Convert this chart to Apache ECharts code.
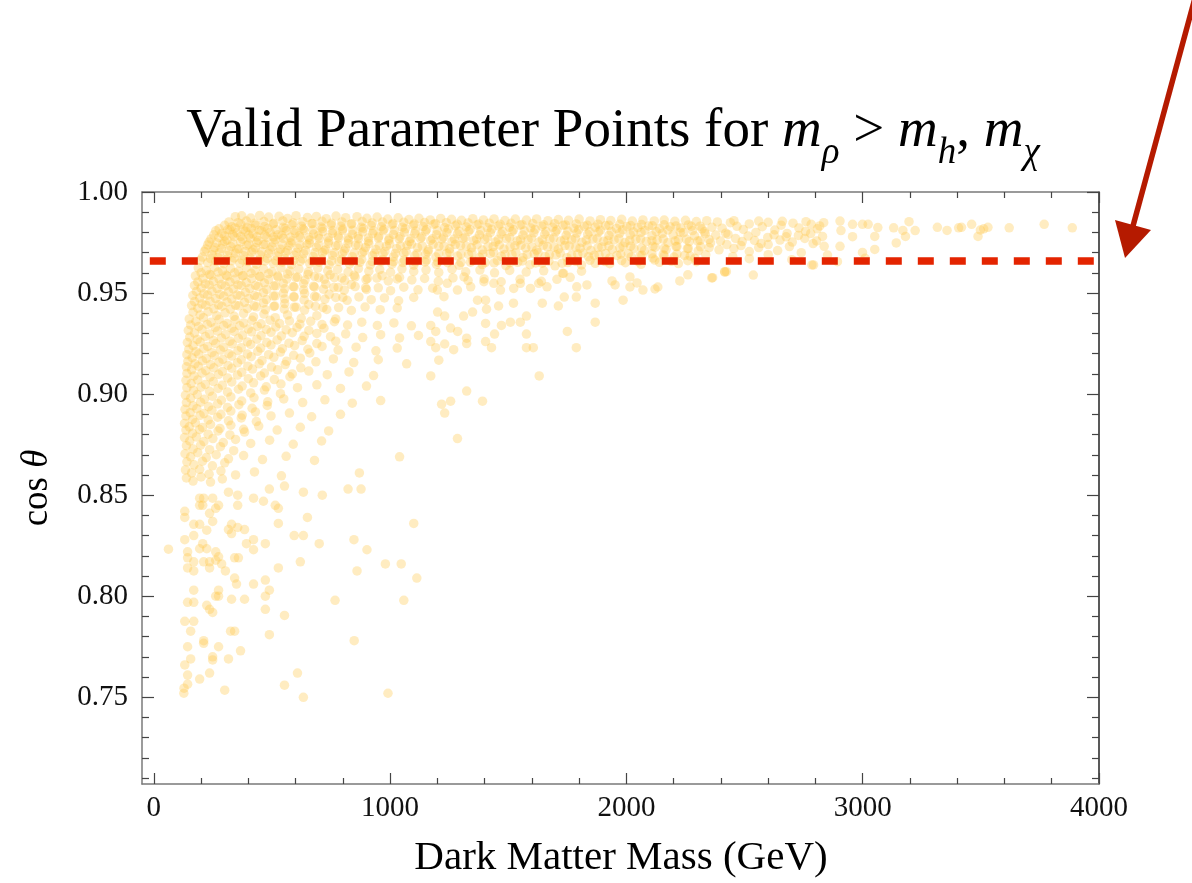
<!DOCTYPE html>
<html>
<head>
<meta charset="utf-8">
<script src="https://cdn.jsdelivr.net/npm/echarts@6/dist/echarts.min.js"></script>
<style>
  html, body { margin: 0; padding: 0; background: #fff; }
  #chart { width: 1192px; height: 883px; }
</style>
</head>
<body>
<div id="chart"></div>
<script>
// tick positions
const xMajor = [0, 1000, 2000, 3000, 4000];
const xMinor = [200, 400, 600, 800, 1200, 1400, 1600, 1800, 2200, 2400, 2600, 2800, 3200, 3400, 3600, 3800];
const yMajor = [0.75, 0.80, 0.85, 0.90, 0.95, 1.00];
const yMinor = [0.71, 0.72, 0.73, 0.74, 0.76, 0.77, 0.78, 0.79, 0.81, 0.82, 0.83, 0.84, 0.86, 0.87, 0.88, 0.89,
                0.91, 0.92, 0.93, 0.94, 0.96, 0.97, 0.98, 0.99];

// dashed cut line (cos theta = 0.9659)
const cutLine = [[-17, 0.9659], [3979, 0.9659]];

// dense upper band
const bandUpper = [
  [345,.9878],[372,.9882],[410,.9871],[448,.9884],[486,.9876],[530,.9880],[566,.9869],[602,.9883],[650,.9874],[688,.9879],[730,.9868],[771,.9881],[812,.9873],[860,.9878],[902,.9870],[945,.9876],[990,.9866],[1034,.9872],[1080,.9864],[1122,.9870],[1170,.9862],[1214,.9869],[1260,.9865],[1302,.9860],[1350,.9868],[1395,.9862],[1440,.9867],[1486,.9859],[1530,.9866],[1577,.9861],[1620,.9867],[1668,.9858],[1712,.9864],[1755,.9860],[1800,.9866],[1846,.9857],[1890,.9863],[1934,.9859],[1980,.9865],[2025,.9856],[2070,.9862],[2118,.9857],[2160,.9861],[2205,.9855],[2250,.9860],[2296,.9854],[2340,.9858],[2385,.9852],
  [318,.9852],[356,.9848],[392,.9856],[428,.9846],[466,.9854],[508,.9845],[546,.9857],[590,.9847],[630,.9853],[672,.9844],[712,.9855],[752,.9846],[796,.9852],[838,.9843],[882,.9854],[924,.9847],[968,.9851],[1012,.9844],[1058,.9850],[1102,.9842],[1146,.9849],[1192,.9843],[1238,.9848],[1284,.9841],[1330,.9847],[1376,.9842],[1420,.9846],[1466,.9840],[1512,.9845],[1558,.9839],[1604,.9844],[1650,.9838],[1696,.9843],[1742,.9837],[1788,.9842],[1834,.9836],[1880,.9841],[1926,.9835],[1972,.9840],[2018,.9834],[2064,.9839],[2110,.9833],[2160,.9838],[2210,.9832],[2262,.9837],[2312,.9831],
  [300,.9835],[330,.9828],[368,.9840],[395,.9825],[430,.9836],[468,.9829],[505,.9842],[548,.9826],[585,.9838],[625,.9831],[668,.9843],[708,.9827],[750,.9837],[792,.9830],[835,.9841],[878,.9825],[920,.9834],[963,.9828],[1008,.9838],[1052,.9826],[1098,.9835],[1140,.9829],[1185,.9840],[1230,.9824],[1276,.9833],[1322,.9827],[1368,.9837],[1412,.9823],[1458,.9832],[1505,.9826],[1550,.9836],[1595,.9822],[1642,.9831],[1688,.9826],[1732,.9835],[1778,.9821],[1822,.9830],[1868,.9825],[1912,.9834],[1958,.9820],[2002,.9829],[2048,.9824],[2094,.9832],[2140,.9819],[2185,.9828],[2230,.9822],[2275,.9830],[2320,.9818],[2362,.9826],[2405,.9821],
  [276,.9818],[312,.9812],[344,.9822],[378,.9814],[412,.9820],[446,.9811],[482,.9819],[518,.9813],[556,.9821],[594,.9810],[632,.9818],[674,.9812],[714,.9820],[758,.9809],[800,.9817],[842,.9811],[886,.9819],[930,.9808],[974,.9816],[1018,.9810],[1064,.9818],[1108,.9807],[1154,.9815],[1200,.9809],[1246,.9817],[1292,.9806],[1338,.9814],[1384,.9808],[1430,.9816],[1476,.9805],[1522,.9813],[1568,.9807],[1614,.9815],[1660,.9804],[1706,.9812],[1752,.9806],[1798,.9814],[1844,.9803],[1890,.9811],[1936,.9805],[1984,.9813],[2030,.9802],[2078,.9810],[2126,.9804],[2176,.9812],[2228,.9801],[2280,.9809],[2330,.9803],
  [262,.9808],[288,.9795],[322,.9812],[352,.9798],[388,.9806],[420,.9793],[455,.9810],[492,.9800],[526,.9789],[560,.9808],[598,.9797],[636,.9811],[676,.9792],[715,.9804],[756,.9796],[798,.9809],[840,.9791],[884,.9803],[926,.9795],[970,.9808],[1014,.9790],[1060,.9801],[1104,.9794],[1150,.9806],[1196,.9789],[1240,.9800],[1285,.9793],[1332,.9805],[1378,.9788],[1424,.9799],[1470,.9792],[1516,.9804],[1562,.9787],[1608,.9798],[1654,.9791],[1700,.9803],[1745,.9786],[1790,.9797],[1836,.9790],[1882,.9802],[1926,.9785],[1972,.9796],[2016,.9789],[2062,.9800],[2108,.9784],[2152,.9795],[2198,.9788],[2242,.9799],[2288,.9783],[2334,.9794],[2378,.9787],[2420,.9796]
];

const bandLower = [
  [254,.9788],[300,.9782],[334,.9790],[368,.9780],[402,.9787],[436,.9778],[470,.9786],[506,.9777],[542,.9785],[578,.9776],[616,.9784],[656,.9775],[696,.9783],[738,.9774],[780,.9782],[822,.9773],[864,.9781],[908,.9772],[952,.9780],[996,.9771],[1042,.9779],[1088,.9770],[1134,.9778],[1180,.9769],[1226,.9777],[1272,.9768],[1318,.9776],[1366,.9767],[1412,.9775],[1458,.9766],[1506,.9774],[1552,.9765],[1598,.9773],[1644,.9764],[1692,.9772],[1738,.9763],[1784,.9771],[1830,.9762],[1876,.9770],[1922,.9761],[1968,.9769],[2014,.9760],[2060,.9768],[2108,.9759],[2156,.9767],[2206,.9758],[2254,.9766],[2302,.9757],[2350,.9765],
  [242,.9768],[275,.9775],[310,.9762],[340,.9779],[376,.9766],[408,.9772],[442,.9760],[478,.9776],[514,.9764],[548,.9771],[584,.9758],[620,.9774],[660,.9763],[700,.9770],[740,.9757],[782,.9773],[824,.9762],[866,.9769],[908,.9756],[950,.9772],[994,.9761],[1038,.9768],[1082,.9755],[1128,.9771],[1172,.9760],[1218,.9767],[1262,.9754],[1308,.9770],[1354,.9759],[1400,.9766],[1446,.9753],[1492,.9769],[1538,.9758],[1584,.9765],[1630,.9752],[1676,.9768],[1722,.9757],[1768,.9764],[1812,.9751],[1858,.9767],[1904,.9756],[1948,.9763],[1994,.9750],[2040,.9766],[2084,.9755],[2130,.9762],[2176,.9749],[2220,.9764],[2266,.9754],[2312,.9760],[2356,.9748],[2398,.9758],
  [234,.9752],[266,.9748],[300,.9756],[334,.9745],[368,.9753],[402,.9742],[436,.9750],[472,.9741],[508,.9749],[544,.9740],[580,.9748],[618,.9739],[658,.9747],[698,.9738],[738,.9746],[780,.9737],[822,.9745],[866,.9736],[910,.9744],[954,.9735],[998,.9743],[1044,.9734],[1090,.9742],[1136,.9733],[1182,.9741],[1228,.9732],[1276,.9740],[1322,.9731],[1368,.9739],[1414,.9730],[1462,.9738],[1508,.9729],[1554,.9737],[1600,.9728],[1648,.9736],[1694,.9727],[1740,.9735],[1786,.9726],[1834,.9734],[1880,.9725],[1926,.9733],[1972,.9724],[2018,.9732],[2064,.9723],[2112,.9731],[2160,.9722],[2210,.9730],[2262,.9721],[2314,.9729],
  [228,.9738],[258,.9725],[292,.9742],[326,.9730],[360,.9719],[394,.9736],[430,.9724],[464,.9740],[500,.9728],[536,.9717],[572,.9734],[610,.9722],[648,.9739],[688,.9727],[728,.9716],[770,.9733],[812,.9721],[854,.9737],[896,.9726],[940,.9715],[984,.9732],[1028,.9720],[1072,.9736],[1116,.9725],[1162,.9714],[1206,.9731],[1252,.9719],[1298,.9735],[1344,.9724],[1390,.9713],[1436,.9730],[1482,.9718],[1528,.9734],[1574,.9723],[1620,.9712],[1666,.9729],[1712,.9717],[1758,.9733],[1804,.9722],[1850,.9711],[1896,.9728],[1940,.9716],[1986,.9732],[2032,.9721],[2076,.9710],[2122,.9727],[2168,.9715],[2214,.9730],[2258,.9720],[2304,.9709],[2350,.9725],[2392,.9714],
  [220,.9718],[252,.9712],[286,.9720],[318,.9709],[352,.9717],[386,.9706],[420,.9714],[456,.9704],[492,.9713],[528,.9702],[566,.9711],[604,.9701],[642,.9710],[682,.9700],[722,.9709],[764,.9699],[806,.9708],[848,.9698],[890,.9707],[934,.9697],[978,.9706],[1022,.9696],[1068,.9705],[1114,.9695],[1160,.9704],[1206,.9694],[1252,.9703],[1300,.9693],[1346,.9702],[1392,.9692],[1438,.9701],[1486,.9691],[1532,.9700],[1580,.9690],[1626,.9699],[1674,.9689],[1720,.9698],[1768,.9688],[1816,.9697],[1864,.9687],[1912,.9696],[1960,.9686],[2008,.9695],[2058,.9685],[2108,.9694],[2160,.9684],[2214,.9693],[2270,.9683],
  [214,.9705],[246,.9690],[278,.9700],[312,.9686],[346,.9698],[380,.9684],[414,.9702],[450,.9688],[486,.9697],[522,.9683],[558,.9700],[596,.9687],[634,.9695],[674,.9681],[714,.9699],[756,.9686],[798,.9694],[840,.9680],[882,.9698],[926,.9685],[970,.9693],[1014,.9679],[1058,.9697],[1104,.9684],[1150,.9692],[1194,.9678],[1240,.9696],[1286,.9683],[1332,.9691],[1378,.9677],[1424,.9695],[1470,.9682],[1516,.9690],[1562,.9676],[1610,.9694],[1656,.9681],[1702,.9689],[1748,.9675],[1794,.9693],[1840,.9680],[1884,.9688],[1930,.9674],[1976,.9692],[2020,.9679],[2066,.9687],[2112,.9673],[2156,.9690],[2202,.9678],[2246,.9686],[2290,.9672],[2336,.9689],
  [206,.9678],[240,.9670],[272,.9676],[306,.9666],[340,.9674],[374,.9664],[408,.9672],[444,.9662],[480,.9671],[516,.9661],[554,.9670],[592,.9660],[630,.9669],[670,.9659],[710,.9668],[752,.9658],[794,.9667],[836,.9657],[880,.9666],[924,.9656],[968,.9665],[1014,.9655],[1060,.9664],[1106,.9654],[1154,.9663],[1202,.9653],[1250,.9662],[1300,.9652],[1350,.9661],[1402,.9651],[1454,.9660],[1508,.9650],[1560,.9659],[1616,.9649],[1672,.9658],[1728,.9648],[1786,.9657],[1846,.9662],[1910,.9656],[1980,.9661],[2050,.9655],[2120,.9663],[2190,.9657],[2260,.9660],
  [196,.9662],[228,.9650],[262,.9658],[296,.9645],[330,.9660],[364,.9648],[398,.9656],[434,.9643],[470,.9659],[506,.9647],[544,.9654],[582,.9641],[620,.9657],[660,.9646],[700,.9653],[742,.9640],[784,.9656],[828,.9644],[872,.9652],[916,.9639],[962,.9655],[1008,.9643],[1054,.9651],[1100,.9638],[1148,.9654],[1196,.9642],[1244,.9650],[1292,.9637],[1340,.9653],[1390,.9641],[1440,.9649],[1490,.9636],[1540,.9652],[1592,.9640],[1644,.9648],[1698,.9635],[1752,.9651],[1810,.9639],[1868,.9647],[1930,.9645],[1996,.9650],[2062,.9642],[2140,.9652],[2220,.9646],[2296,.9655]
];

// band end 2400 - 2850
const bandEnd = [
  [2440,.9848],[2468,.9830],[2495,.9815],[2520,.9842],[2548,.9800],[2575,.9828],[2600,.9850],[2628,.9812],[2655,.9836],[2680,.9795],[2705,.9846],[2730,.9822],[2758,.9805],[2782,.9840],[2808,.9818],[2835,.9848],
  [2430,.9790],[2462,.9770],[2490,.9755],[2515,.9782],[2542,.9760],[2570,.9745],[2598,.9775],[2625,.9788],[2650,.9762],[2676,.9778],[2702,.9752],[2728,.9785],[2755,.9770],[2780,.9795],[2805,.9758],[2830,.9780],
  [2425,.9740],[2455,.9720],[2485,.9735],[2520,.9705],[2560,.9725],[2600,.9740],[2640,.9710],[2690,.9730],[2740,.9700],[2790,.9745],
  [2450,.9680],[2520,.9670],[2600,.9690],[2700,.9665],[2455,.9858],[2560,.9856],[2660,.9855],[2760,.9853],[2818,.9832],
  [2365,.9576],[2416,.9606],[2423,.9606],[2537,.9589],[2792,.9639]
];

// sparse points beyond 2850
const farRight = [
  [2851,.9688],[2837,.9731],[2785,.9639],[2893,.9655],[2904,.9856],[2908,.9809],[2904,.9731],[2957,.9840],[2957,.9779],
  [2999,.9840],[2999,.9701],[3010,.9672],[3023,.9840],[3051,.9780],[3051,.9716],[3064,.9824],[3131,.9823],[3142,.9748],
  [3170,.9810],[3181,.9780],[3196,.9853],[3222,.9809],[3316,.9825],[3357,.9810],[3406,.9823],[3418,.9825],[3461,.9840],
  [3488,.9780],[3498,.9812],[3512,.9818],[3530,.9825],[3620,.9823],[3768,.9840],[3887,.9823]
];

// just below the cut line
const shoulder = [
  [188,.9625],[222,.9612],[256,.9628],[290,.9610],[324,.9622],[358,.9608],[392,.9626],[428,.9611],[464,.9620],[500,.9606],[538,.9624],[576,.9609],[614,.9619],[654,.9605],[694,.9623],[736,.9610],[778,.9617],[822,.9604],[866,.9621],[910,.9608],[956,.9616],[1002,.9603],[1050,.9620],[1100,.9607],[1152,.9615],[1206,.9602],[1262,.9618],[1320,.9605],[1380,.9614],[1442,.9600],[1506,.9612],[1576,.9604],[1650,.9610],[1730,.9598],[1810,.9608],
  [200,.9600],[236,.9592],[272,.9604],[306,.9588],[342,.9600],[376,.9585],[412,.9598],[448,.9583],[486,.9596],[526,.9580],[566,.9594],[608,.9578],[652,.9592],[698,.9576],[746,.9590],[796,.9574],[848,.9588],[904,.9572],[966,.9586],[1030,.9570],
  [176,.9585],[208,.9572],[242,.9588],[276,.9570],[310,.9583],[344,.9568],[378,.9586],[414,.9571],[450,.9580],[486,.9566],[524,.9584],[562,.9569],[600,.9578],[640,.9564],[680,.9582],[722,.9568],[764,.9576],[808,.9562],[852,.9580],[898,.9567],[944,.9574],[992,.9560],[1040,.9578],[1092,.9565],[1146,.9572],[1204,.9558],[1266,.9575],[1330,.9562],[1398,.9570],[1470,.9556],[1550,.9568],[1640,.9558],
  [186,.9555],[218,.9545],[252,.9558],[286,.9542],[322,.9555],[356,.9540],[392,.9552],[430,.9538],[468,.9550],[508,.9535],[548,.9548],[590,.9532],[634,.9546],[680,.9530],[728,.9544],[780,.9528],[836,.9542],[896,.9526],
  [172,.9538],[200,.9525],[234,.9540],[268,.9522],[302,.9535],[336,.9520],[370,.9538],[406,.9523],[442,.9532],[478,.9518],[516,.9536],[554,.9521],[594,.9530],[634,.9516],[676,.9534],[718,.9519],[762,.9528],[806,.9514],[852,.9532],[900,.9518],[950,.9526],[1002,.9512],[1058,.9529],[1118,.9516],[1180,.9524],
  [180,.9508],[212,.9496],[246,.9510],[280,.9493],[316,.9506],[352,.9490],[388,.9504],[426,.9488],[464,.9502],[506,.9485],[548,.9500],[592,.9482],[638,.9498],[688,.9480],[742,.9494],[800,.9478],
  [165,.9488],[194,.9475],[228,.9490],[262,.9472],[296,.9485],[330,.9470],[366,.9487],[402,.9473],[438,.9482],[476,.9468],[514,.9486],[554,.9471],[594,.9480],[636,.9466],[680,.9484],[724,.9469],[770,.9478],[818,.9464],[868,.9481],[920,.9467],[976,.9476],[1036,.9462],[1100,.9478],
  [172,.9458],[204,.9446],[238,.9460],[274,.9442],[310,.9456],[346,.9440],[384,.9454],[424,.9437],[464,.9451],[508,.9434],[554,.9448],[602,.9430],[656,.9444],[716,.9428],
  [160,.9438],[186,.9425],[220,.9440],[254,.9422],[288,.9435],[324,.9420],[360,.9437],[396,.9423],[434,.9432],[472,.9418],[512,.9436],[552,.9421],[594,.9430],[638,.9416],[684,.9434],[732,.9419],[782,.9428],[836,.9414],[894,.9431],[958,.9418],[1030,.9426],
  [166,.9405],[196,.9392],[230,.9408],[266,.9388],[302,.9402],[340,.9385],[380,.9399],[422,.9382],[466,.9396],[514,.9378],[566,.9392],[624,.9375],[690,.9388],[770,.9372]
];

// scattered points 1150 - 2450 below the band
const midScatter = [
  [1172,.9340],[1172,.9260],[1193,.9310],[1201,.9406],[1231,.9386],[1256,.9327],[1286,.9310],[1311,.9386],[1349,.9406],[1370,.9465],
  [1404,.9465],[1408,.9420],[1459,.9436],[1404,.9350],[1442,.9297],[1471,.9340],[1509,.9356],[1551,.9356],[1577,.9386],[1577,.9297],
  [1522,.9450],[1644,.9450],[1712,.9436],[1737,.9480],[1788,.9480],[1750,.9310],[1868,.9356],[1868,.9450],[1986,.9465],[2015,.9530],
  [2045,.9550],[2070,.9515],[2121,.9520],[2133,.9530],[2226,.9560],[2260,.9590],[2361,.9575],[2416,.9604],[1939,.9560],[1952,.9540],
  [2015,.9580],[1790,.9531],[1833,.9540],[1762,.9578],[1734,.9597],[1706,.9568],[1664,.9531],[1629,.9548],[1594,.9523],[1551,.9548],
  [1523,.9523],[1467,.9515],[1439,.9548],[1397,.9556],[1341,.9531],[1313,.9580],[1285,.9515],[1242,.9548],[1228,.9482],[1200,.9515],
  [1269,.9220],[1193,.9230],[1231,.9248],[1324,.9250],[1324,.9277],[1404,.9260],[1429,.9230],[1577,.9230],[1606,.9230],[1788,.9230],
  [1206,.9168],[1172,.9090],[1218,.8950],[1256,.8965],[1231,.8906],[1324,.9015],[1391,.8965],[1631,.9090],[1285,.8780]
];

// main cloud 0.90 - 0.94
const cloud = [
  [150,.9372],[178,.9360],[210,.9378],[242,.9355],[276,.9370],[310,.9350],[344,.9368],[380,.9352],[416,.9365],[454,.9348],[492,.9366],[532,.9350],[574,.9362],[618,.9346],[664,.9360],[712,.9344],[764,.9358],[820,.9342],[880,.9356],[946,.9340],[1016,.9352],[1090,.9338],
  [156,.9342],[190,.9335],[226,.9345],[260,.9330],[296,.9340],[330,.9326],[364,.9338],[400,.9322],[438,.9335],[476,.9320],[516,.9332],[560,.9318],[606,.9330],[656,.9315],[720,.9326],
  [146,.9315],[172,.9302],[204,.9320],[236,.9298],[270,.9312],[304,.9295],[340,.9310],[376,.9292],[414,.9308],[454,.9290],[496,.9306],[540,.9288],[586,.9304],[636,.9286],[690,.9300],[748,.9284],[812,.9298],[884,.9280],[960,.9294],[1040,.9278],[1120,.9290],
  [152,.9282],[184,.9270],[218,.9285],[252,.9265],[286,.9278],[322,.9262],[358,.9276],[396,.9258],[436,.9272],[478,.9255],[522,.9268],[572,.9252],[628,.9265],[690,.9250],[770,.9262],
  [142,.9255],[166,.9240],[196,.9258],[228,.9236],[262,.9250],[296,.9232],[332,.9248],[370,.9230],[410,.9246],[452,.9228],[496,.9243],[544,.9225],[596,.9240],[652,.9222],[712,.9236],[780,.9218],[856,.9232],[940,.9214],[1030,.9228],
  [148,.9222],[178,.9210],[212,.9225],[246,.9205],[282,.9218],[318,.9200],[356,.9215],[396,.9198],[440,.9212],[486,.9195],[536,.9208],[592,.9192],[660,.9204],
  [140,.9195],[162,.9180],[190,.9198],[222,.9176],[256,.9190],[292,.9172],[330,.9188],[370,.9170],[412,.9185],[458,.9166],[508,.9182],[562,.9163],[620,.9178],[686,.9160],[760,.9174],[846,.9156],[950,.9170],[1070,.9150],
  [144,.9162],[174,.9150],[206,.9165],[240,.9146],[276,.9158],[314,.9142],[354,.9155],[398,.9138],[446,.9150],[498,.9134],[556,.9146],[622,.9130],
  [138,.9135],[160,.9120],[188,.9138],[220,.9116],[254,.9130],[290,.9112],[330,.9128],[372,.9108],[418,.9124],[468,.9104],[524,.9120],[586,.9100],[656,.9114],[734,.9096],[826,.9110],[930,.9092],
  [140,.9102],[170,.9090],[204,.9104],[238,.9085],[274,.9098],[312,.9080],[354,.9094],[400,.9076],[452,.9090],[510,.9072],[576,.9086],
  [136,.9068],[158,.9052],[186,.9070],[218,.9048],[252,.9062],[290,.9044],[330,.9060],[374,.9040],[422,.9056],[476,.9036],[538,.9050],[608,.9032],[690,.9046],[790,.9028],[900,.9040],
  [140,.9032],[168,.9018],[200,.9035],[236,.9014],[272,.9028],[312,.9010],[358,.9024],[410,.9006],[468,.9020],[536,.9002]
];

// lower cloud 0.855 - 0.90
const lowerCloud = [
  [134,.8995],[156,.8980],[184,.8998],[214,.8975],[248,.8990],[286,.8970],[326,.8986],[372,.8966],[424,.8982],[482,.8962],[550,.8976],[630,.8958],[724,.8972],[840,.8955],[960,.8968],
  [138,.8958],[166,.8942],[198,.8960],[232,.8938],[270,.8952],[312,.8934],[360,.8948],[416,.8930],[480,.8944],
  [132,.8925],[154,.8908],[182,.8928],[212,.8904],[246,.8920],[284,.8900],[326,.8916],[374,.8896],[430,.8912],[496,.8892],[574,.8906],[668,.8888],[790,.8900],
  [136,.8892],[164,.8875],[196,.8895],[230,.8872],[270,.8886],[316,.8868],[370,.8882],[434,.8864],
  [130,.8855],[150,.8838],[176,.8858],[206,.8835],[240,.8850],[280,.8830],[326,.8846],[380,.8826],[444,.8842],[522,.8822],[620,.8836],[740,.8818],
  [136,.8822],[164,.8806],[194,.8825],[230,.8802],[272,.8818],[322,.8798],[384,.8812],
  [130,.8785],[152,.8768],[180,.8788],[212,.8765],[250,.8780],[294,.8760],[346,.8776],[410,.8756],[490,.8772],[590,.8752],[710,.8768],
  [138,.8745],[166,.8728],[198,.8748],[236,.8725],[282,.8740],[338,.8720],
  [132,.8705],[156,.8690],[186,.8710],[222,.8686],[264,.8700],[316,.8680],[380,.8696],[460,.8676],[560,.8692],[680,.8672],[1040,.8690],
  [140,.8665],[170,.8650],[206,.8668],[248,.8645],[300,.8660],
  [134,.8625],[160,.8610],[194,.8628],[234,.8604],[284,.8620],[346,.8600],[426,.8615],[540,.8596],[870,.8610],
  [138,.8585],[166,.8570],[200,.8590],[240,.8565],[290,.8580]
];

// sparse tail 0.75 - 0.855
const tail = [
  [62,.8233],[127,.7520],[128,.7545],[300,.7535],[633,.7500],[991,.7520],[553,.7560],[608,.7620],[848,.7780],
  [1058,.7980],[767,.7980],[1113,.8090],[980,.8160],[1047,.8160],[860,.8125],[1100,.8360],[902,.8230],[847,.8280],[700,.8260],
  [620,.8170],[633,.8300],[594,.8300],[650,.8390],[713,.8500],[633,.8515],[822,.8530],[877,.8530],[553,.8545],[489,.8530],
  [527,.8360],[527,.8435],[514,.8450],[464,.8470],[422,.8485],[355,.8500],[355,.8450],[316,.8515],[422,.8280],[422,.8230],
  [392,.8260],[472,.8260],[527,.8140],[472,.8080],[489,.8030],[472,.8000],[472,.7935],[553,.7905],[489,.7810],[422,.8060],
  [384,.7985],[329,.7985],[342,.8090],[350,.8060],[342,.8190],[358,.8190],[325,.7827],[342,.7827],[367,.7730],[316,.7690],
  [274,.7750],[249,.7700],[249,.7685],[236,.7620],[194,.7590],[143,.7565],[143,.7610],[131,.7660],[156,.7690],[143,.7750],
  [211,.7767],[211,.7780],[156,.7827],[131,.7876],[169,.7876],[249,.7920],[236,.7935],[224,.7955],[143,.7970],[169,.7970],
  [262,.8000],[274,.8000],[274,.8030],[169,.8030],[287,.8160],[303,.8125],[236,.8140],[143,.8140],[169,.8125],[143,.8190],
  [169,.8170],[143,.8220],[194,.8235],[224,.8235],[262,.8220],[274,.8195],[262,.8178],[236,.8170],[211,.8170],[131,.8280],
  [169,.8300],[207,.8260],[224,.8327],[249,.8370],[194,.8356],[169,.8356],[131,.8390],[131,.8420],[194,.8450],[207,.8450],
  [236,.8410],[262,.8435],[274,.8450],[249,.8485],[194,.8485],[211,.8485],[329,.8356],[316,.8330],[355,.8340],[384,.8330],[329,.8310]
];

const points = [].concat(bandUpper, bandLower, bandEnd, farRight, shoulder, midScatter, cloud, lowerCloud, tail);

const serif = '"Liberation Serif", "DejaVu Serif", serif';
const frameGray = '#7a7a7a';
const tickColor = '#444';

const chart = echarts.init(document.getElementById('chart'));

const xAxisBase = { type: 'value', min: -50, max: 4000, splitLine: { show: false } };
const yAxisBase = { type: 'value', min: 0.7071, max: 1, splitLine: { show: false } };
const noLine = { show: false, onZero: false };
const frameLine = color => ({ show: true, onZero: false, lineStyle: { color: color, width: 1.5 } });
const ticks = (vals, len) => ({ show: true, inside: true, length: len, customValues: vals, lineStyle: { color: tickColor, width: 1.2 } });

chart.setOption({
    animation: false,
    backgroundColor: '#fff',
    grid: { left: 142, right: 93, top: 192, bottom: 99, outerBoundsMode: 'none' },
    xAxis: [
        Object.assign({}, xAxisBase, {
            position: 'bottom',
            axisLine: frameLine(frameGray),
            axisTick: ticks(xMajor, 11),
            axisLabel: {
                show: true, customValues: xMajor, margin: 10, fontFamily: serif, fontSize: 29, color: '#111',
                formatter: v => String(v)
            }
        }),
        Object.assign({}, xAxisBase, { position: 'bottom', axisLine: noLine, axisTick: ticks(xMinor, 6), axisLabel: { show: false } }),
        Object.assign({}, xAxisBase, { position: 'top', axisLine: frameLine(frameGray), axisTick: ticks(xMajor, 11), axisLabel: { show: false } }),
        Object.assign({}, xAxisBase, { position: 'top', axisLine: noLine, axisTick: ticks(xMinor, 6), axisLabel: { show: false } })
    ],
    yAxis: [
        Object.assign({}, yAxisBase, {
            position: 'left',
            axisLine: frameLine(frameGray),
            axisTick: ticks(yMajor, 12),
            axisLabel: {
                show: true, customValues: yMajor, margin: 14, fontFamily: serif, fontSize: 29, color: '#111',
                formatter: v => v.toFixed(2)
            }
        }),
        Object.assign({}, yAxisBase, { position: 'left', axisLine: noLine, axisTick: ticks(yMinor, 7), axisLabel: { show: false } }),
        Object.assign({}, yAxisBase, { position: 'right', axisLine: frameLine('#222'), axisTick: ticks(yMajor, 12), axisLabel: { show: false } }),
        Object.assign({}, yAxisBase, { position: 'right', axisLine: noLine, axisTick: ticks(yMinor, 7), axisLabel: { show: false } })
    ],
    series: [
        {
            type: 'scatter',
            xAxisIndex: 0, yAxisIndex: 0,
            data: points,
            symbol: 'circle',
            symbolSize: 9.5,
            itemStyle: { color: 'rgba(255, 200, 70, 0.42)', borderWidth: 0 },
            emphasis: { disabled: true },
            silent: true
        },
        {
            type: 'line',
            xAxisIndex: 0, yAxisIndex: 0,
            data: cutLine,
            symbol: 'none',
            lineStyle: { color: '#E42400', width: 7.5, type: [16, 16], cap: 'butt' },
            silent: true
        }
    ],
    graphic: [
        {
            type: 'text', x: 613, y: 132,
            style: {
                text: '{n|Valid Parameter Points for }{i|m}{s|ρ}{n| > }{i|m}{s|h}{n|, }{i|m}{s|χ}',
                align: 'center', verticalAlign: 'middle',
                rich: {
                    n: { fontFamily: serif, fontSize: 55, lineHeight: 80, fill: '#000' },
                    i: { fontFamily: serif, fontStyle: 'italic', fontSize: 55, lineHeight: 80, fill: '#000' },
                    s: { fontFamily: serif, fontStyle: 'italic', fontSize: 37, lineHeight: 37, verticalAlign: 'bottom', fill: '#000' }
                }
            }
        },
        {
            type: 'text', x: 621, y: 858,
            style: {
                text: 'Dark Matter Mass (GeV)', font: '41px ' + serif, fill: '#000',
                align: 'center', verticalAlign: 'middle'
            }
        },
        {
            type: 'text', x: 37, y: 488, rotation: Math.PI / 2,
            style: {
                text: '{n|cos }{i|θ}',
                align: 'center', verticalAlign: 'middle',
                rich: {
                    n: { fontFamily: serif, fontSize: 37, fill: '#000' },
                    i: { fontFamily: serif, fontStyle: 'italic', fontSize: 37, fill: '#000' }
                }
            }
        },
        {
            type: 'line',
            shape: { x1: 1195, y1: -2, x2: 1133, y2: 226 },
            style: { stroke: '#B51A00', lineWidth: 5.5 }
        },
        {
            type: 'polygon',
            shape: { points: [[1125, 258], [1115, 220], [1151, 230]] },
            style: { fill: '#B51A00' }
        }
    ]
});
</script>
</body>
</html>
